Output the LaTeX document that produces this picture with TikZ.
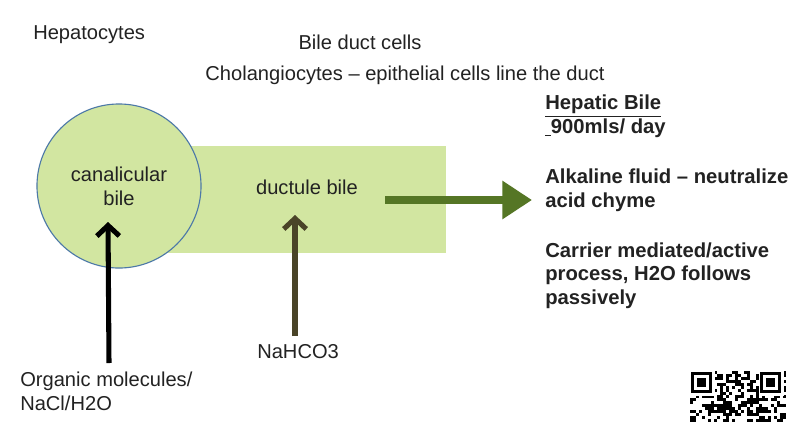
\documentclass[tikz,border=0pt]{standalone}
\usepackage{fontspec}
\setmainfont{Liberation Sans}
\usetikzlibrary{arrows.meta,positioning}
\definecolor{bilegreen}{HTML}{D2E6A1}
\definecolor{circleblue}{HTML}{4D79A8}
\definecolor{flowgreen}{HTML}{557625}
\definecolor{oliveink}{HTML}{4A4428}
\definecolor{textgray}{HTML}{222222}
\tikzset{
    plaintext/.style={
        text=textgray,
        inner sep=0pt,
        font={\fontsize{14.3pt}{17pt}\selectfont}
    },
    boldtext/.style={
        text=textgray,
        inner sep=0pt,
        align=left,
        font={\fontsize{14.4pt}{16.7pt}\selectfont\bfseries}
    },
}

\begin{document}
\begin{tikzpicture}[x=0.025cm,y=-0.025cm]
\tikzstyle{ductbox} = [draw=none, fill=bilegreen]
\tikzstyle{inarrow} = [line width=3.6pt, -{Straight Barb[length=7.5pt,width=16pt]}]
\tikzstyle{outarrow} = [line width=5pt, flowgreen, -{Triangle[length=21pt,width=26pt]}]

\fill[white] (0,0) rectangle (800,421);
\useasboundingbox (0,0) rectangle (800,421);

% Headings
\node[plaintext, anchor=west] (hepato) at (33,35) {Hepatocytes};
\node[plaintext] (ductcells) at (360,42) {Bile duct cells};
\node[plaintext] (cholang) at (405,75) {Cholangiocytes -- epithelial cells line the duct};

% Bile compartments
\fill[ductbox] (150,146) rectangle (446,253);
\node[circle, draw=circleblue, thick, fill=bilegreen, minimum size=4.1cm] (canal) at (119,186) {};
\node[plaintext, align=center] (canaltext) at (119,186) {canalicular\\bile};
\node[plaintext] (ductule) at (307,187) {ductule bile};

% Secretions
\node[plaintext, anchor=north west, align=left] (organic) at (20,372) {Organic molecules/\\NaCl/H2O};
\node[plaintext, anchor=west] (nahco) at (257,352) {NaHCO3};
\coordinate (orgfoot) at (109,363);
\coordinate (orgtip) at (108,222);
\coordinate (nafoot) at (295,336);
\coordinate (natip) at (295,215);
\draw[inarrow, black] (orgfoot) -- (orgtip);
\draw[inarrow, oliveink] (nafoot) -- (natip);

% Flow out of the duct
\coordinate (flowstart) at (385,200);
\coordinate (flowend) at (532,200);
\draw[outarrow] (flowstart) -- (flowend);

% Hepatic bile notes
\node[boldtext, anchor=north west] (hepbile) at (545,95)
  {\underline{Hepatic Bile}\\\underline{\phantom{.}}900mls/ day\\[19pt]
   Alkaline fluid -- neutralize\\acid chyme\\[19pt]
   Carrier mediated/active\\process, H2O follows\\passively};

% QR code
\begin{scope}
\clip (688,370) rectangle (786,421);
\pgfmathsetseed{11}
\foreach \i in {0,...,31}{
  \foreach \j in {0,...,16}{
    \pgfmathtruncatemacro\bit{rnd>0.5}
    \ifnum\bit=1 \fill[black] (690+3*\i,371+3*\j) rectangle ++(3,3); \fi
  }
}
\foreach \qx in {690,759}{
  \fill[white] (\qx,371) rectangle ++(25,25);
  \fill[black] (\qx+1,372) rectangle ++(21,21);
  \fill[white] (\qx+4,375) rectangle ++(15,15);
  \fill[black] (\qx+7,378) rectangle ++(9,9);
}
\end{scope}
\end{tikzpicture}
\end{document}
